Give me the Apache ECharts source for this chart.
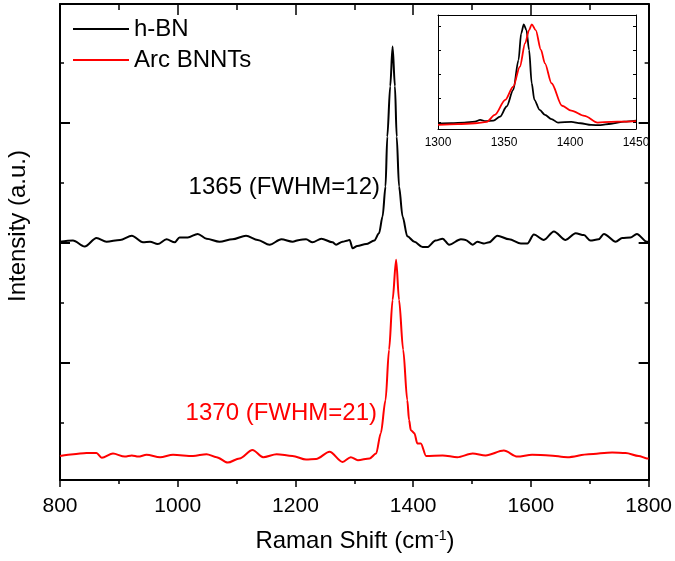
<!DOCTYPE html>
<html>
<head>
<meta charset="utf-8">
<script src="https://cdn.jsdelivr.net/npm/echarts@6/dist/echarts.min.js"></script>
<style>
html, body { margin: 0; padding: 0; background: #fff; }
#chart { width: 675px; height: 561px; }
</style>
</head>
<body>
<div id="chart"></div>
<script>
// main spectra (Raman shift, intensity a.u. with offsets)
var hbnX = [800,822,842,862,879,902,922,941,953,966,981,995,1003,1017,1034,1049,1071,1093,1116,1136,1156,1176,1195,1207,1218,1229,1244,1263,1269,1280,1289,1292,1297,1305,1320,1334,1342,1348,1353,1356,1361,1365,1369,1372,1376,1382,1390,1402,1416,1424,1438,1450,1461,1481,1489,1501,1509,1520,1529,1543,1563,1583,1594,1605,1622,1639,1659,1676,1690,1701,1715,1724,1744,1755,1769,1780,1797,1800];
var hbnY = [3.02,3.04,2.94,3.08,3.02,3.05,3.12,3.01,3.02,2.98,3.06,3.01,3.09,3.09,3.15,3.07,3.02,3.06,3.12,3.05,2.97,3.06,3.02,3.05,3.06,3.01,3.07,3.01,2.97,3.02,3.04,3.05,2.91,2.95,2.98,3.04,3.16,3.44,3.94,4.77,5.61,6.27,5.61,4.77,3.94,3.44,3.11,3.02,2.93,2.93,3.04,3.07,2.97,3.06,3.05,2.97,3.02,2.99,3.01,3.12,3.06,2.99,2.99,3.14,3.05,3.19,3.05,3.16,3.13,3.04,3.06,3.15,3.02,3.08,3.09,3.15,3.02,3.02];

var bnntX = [800,823,845,862,871,890,910,922,933,947,970,992,1026,1049,1066,1085,1105,1127,1145,1168,1195,1218,1235,1258,1280,1294,1306,1326,1337,1345,1353,1359,1365,1371,1376,1383,1390,1393,1396,1402,1407,1413,1422,1450,1475,1501,1523,1554,1577,1602,1631,1662,1698,1738,1761,1783,1797,1800];
var bnntY = [-0.55,-0.52,-0.50,-0.50,-0.58,-0.51,-0.56,-0.54,-0.56,-0.53,-0.57,-0.53,-0.55,-0.52,-0.57,-0.66,-0.59,-0.45,-0.57,-0.52,-0.55,-0.61,-0.60,-0.48,-0.65,-0.57,-0.62,-0.59,-0.51,-0.17,0.38,1.22,2.05,2.72,2.05,1.22,0.38,0.05,-0.12,-0.17,-0.34,-0.34,-0.55,-0.54,-0.57,-0.51,-0.54,-0.46,-0.56,-0.53,-0.54,-0.57,-0.52,-0.49,-0.50,-0.55,-0.59,-0.59];

// inset (1300-1450 zoom)
var insetHbnX = [1300,1310,1320,1328,1332,1336,1342,1347,1352,1357,1361,1363,1365,1367,1369,1371,1373,1377,1381,1386,1391,1401,1408,1416,1423,1431,1441,1450];
var insetHbnY = [-0.05,-0.03,0,0.04,0.11,0.06,0.08,0.25,0.67,1.36,2.61,3.72,4.1,3.86,3.03,1.64,0.95,0.53,0.32,0.14,0,0.03,-0.03,-0.1,-0.11,-0.05,0.04,0.08];
var insetBnntX = [1300,1315,1328,1337,1343,1351,1357,1362,1366,1369,1371,1374,1378,1381,1386,1394,1401,1411,1421,1431,1441,1450];
var insetBnntY = [-0.1,-0.07,-0.03,0.03,0.32,0.95,1.5,2.33,3.31,3.86,4.1,3.86,3.03,2.47,1.64,0.7,0.5,0.28,0,0.03,0.04,0.06];

var names = ['h-BN', 'Arc BNNTs'];
var peakNotes = ['1365 (FWHM=12)', '1370 (FWHM=21)'];
var mainTicks = [800, 1000, 1200, 1400, 1600, 1800];
var insetTicks = [1300, 1350, 1400, 1450];

var FONT = "'Liberation Sans', Arial, sans-serif";
var BLACK = '#000000';
var RED = '#ff0000';

function zip(xs, ys) {
    var out = [];
    for (var i = 0; i < xs.length; i++) out.push([xs[i], ys[i]]);
    return out;
}

function plain(v) {
    return String(v);
}

function yAx(grid, pos, min, max, ticks, len, showLine, lw) {
    return {
        type: 'value', gridIndex: grid, position: pos, min: min, max: max,
        axisLine: { show: showLine, onZero: false, lineStyle: { color: BLACK, width: lw } },
        axisTick: { show: true, inside: true, length: len, customValues: ticks,
            lineStyle: { color: BLACK, width: lw } },
        axisLabel: { show: false },
        splitLine: { show: false }
    };
}

var myChart = echarts.init(document.getElementById('chart'));

var option = {
    animation: false,
    backgroundColor: '#fff',
    textStyle: { fontFamily: FONT },

    grid: [
        { left: 60, right: 25, top: 4, bottom: 81 },
        { left: 438, right: 39, top: 15, bottom: 432, show: true, backgroundColor: '#fff', borderWidth: 0 }
    ],

    legend: {
        data: names,
        orient: 'vertical',
        left: 73, top: 17,
        itemGap: 7,
        itemWidth: 56, itemHeight: 2,
        icon: 'rect',
        padding: 0,
        textStyle: { fontFamily: FONT, fontSize: 24, color: BLACK }
    },

    xAxis: [
        {
            type: 'value', gridIndex: 0, position: 'bottom',
            min: mainTicks[0], max: mainTicks[mainTicks.length - 1], interval: 200,
            axisLine: { onZero: false, lineStyle: { color: BLACK, width: 2 } },
            axisTick: { inside: false, length: 7, lineStyle: { color: BLACK, width: 1.5 } },
            minorTick: { show: true, splitNumber: 2, length: 4, lineStyle: { color: BLACK, width: 1.5 } },
            axisLabel: { color: BLACK, fontSize: 21, fontFamily: FONT, margin: 16, formatter: plain },
            splitLine: { show: false }
        },
        {
            type: 'value', gridIndex: 0, position: 'top',
            min: mainTicks[0], max: mainTicks[mainTicks.length - 1], interval: 200,
            axisLine: { onZero: false, lineStyle: { color: BLACK, width: 2 } },
            axisTick: { inside: true, length: 11, lineStyle: { color: BLACK, width: 1.5 } },
            minorTick: { show: true, splitNumber: 2, length: 6, lineStyle: { color: BLACK, width: 1.5 } },
            axisLabel: { show: false },
            splitLine: { show: false }
        },
        {
            type: 'value', gridIndex: 1, position: 'bottom',
            min: insetTicks[0], max: insetTicks[insetTicks.length - 1], interval: 50,
            axisLine: { onZero: false, lineStyle: { color: BLACK, width: 1 } },
            axisTick: { show: false },
            axisLabel: { color: BLACK, fontSize: 12, fontFamily: FONT, margin: 8, formatter: plain },
            splitLine: { show: false }
        },
        {
            type: 'value', gridIndex: 1, position: 'top',
            min: insetTicks[0], max: insetTicks[insetTicks.length - 1],
            axisLine: { onZero: false, lineStyle: { color: BLACK, width: 1 } },
            axisTick: { show: false },
            axisLabel: { show: false },
            splitLine: { show: false }
        }
    ],

    yAxis: [
        yAx(0, 'left', -0.95, 6.98, [1, 3, 5], 10, true, 2),
        yAx(0, 'left', -0.95, 6.98, [0, 2, 4, 6], 4, false, 1.5),
        yAx(0, 'right', -0.95, 6.98, [1, 3, 5], 10, true, 2),
        yAx(0, 'right', -0.95, 6.98, [0, 2, 4, 6], 4, false, 1.5),
        yAx(1, 'left', -0.27, 4.49, [0, 1, 2, 3, 4], 3, true, 1),
        yAx(1, 'right', -0.27, 4.49, [0, 1, 2, 3, 4], 3, true, 1)
    ],

    series: [
        {
            name: names[0], type: 'line', xAxisIndex: 0, yAxisIndex: 0,
            data: zip(hbnX, hbnY), showSymbol: false, smooth: 0.3, smoothMonotone: 'x',
            color: BLACK, lineStyle: { color: BLACK, width: 2 }
        },
        {
            name: names[1], type: 'line', xAxisIndex: 0, yAxisIndex: 0,
            data: zip(bnntX, bnntY), showSymbol: false, smooth: 0.3, smoothMonotone: 'x',
            color: RED, lineStyle: { color: RED, width: 2 }
        },
        {
            name: names[0], type: 'line', xAxisIndex: 2, yAxisIndex: 4,
            data: zip(insetHbnX, insetHbnY), showSymbol: false, smooth: 0.3, smoothMonotone: 'x',
            color: BLACK, lineStyle: { color: BLACK, width: 1.8 }
        },
        {
            name: names[1], type: 'line', xAxisIndex: 2, yAxisIndex: 4,
            data: zip(insetBnntX, insetBnntY), showSymbol: false, smooth: 0.3, smoothMonotone: 'x',
            color: RED, lineStyle: { color: RED, width: 1.8 }
        }
    ],

    graphic: [
        {
            type: 'text', x: 380, y: 187,
            style: { text: peakNotes[0], fill: BLACK, font: '24px ' + FONT, textAlign: 'right', textVerticalAlign: 'middle' }
        },
        {
            type: 'text', x: 377, y: 413,
            style: { text: peakNotes[1], fill: RED, font: '24px ' + FONT, textAlign: 'right', textVerticalAlign: 'middle' }
        },
        {
            type: 'text', x: 355, y: 541,
            style: {
                text: 'Raman Shift (cm{sup|-1})', fill: BLACK, font: '24px ' + FONT,
                textAlign: 'center', textVerticalAlign: 'middle',
                rich: { sup: { fontSize: 14, fontFamily: FONT, verticalAlign: 'top', fill: BLACK } }
            }
        },
        {
            type: 'text', x: 18, y: 226, rotation: Math.PI / 2,
            style: { text: 'Intensity (a.u.)', fill: BLACK, font: '24px ' + FONT, textAlign: 'center', textVerticalAlign: 'middle' }
        }
    ]
};

myChart.setOption(option);
</script>
</body>
</html>
